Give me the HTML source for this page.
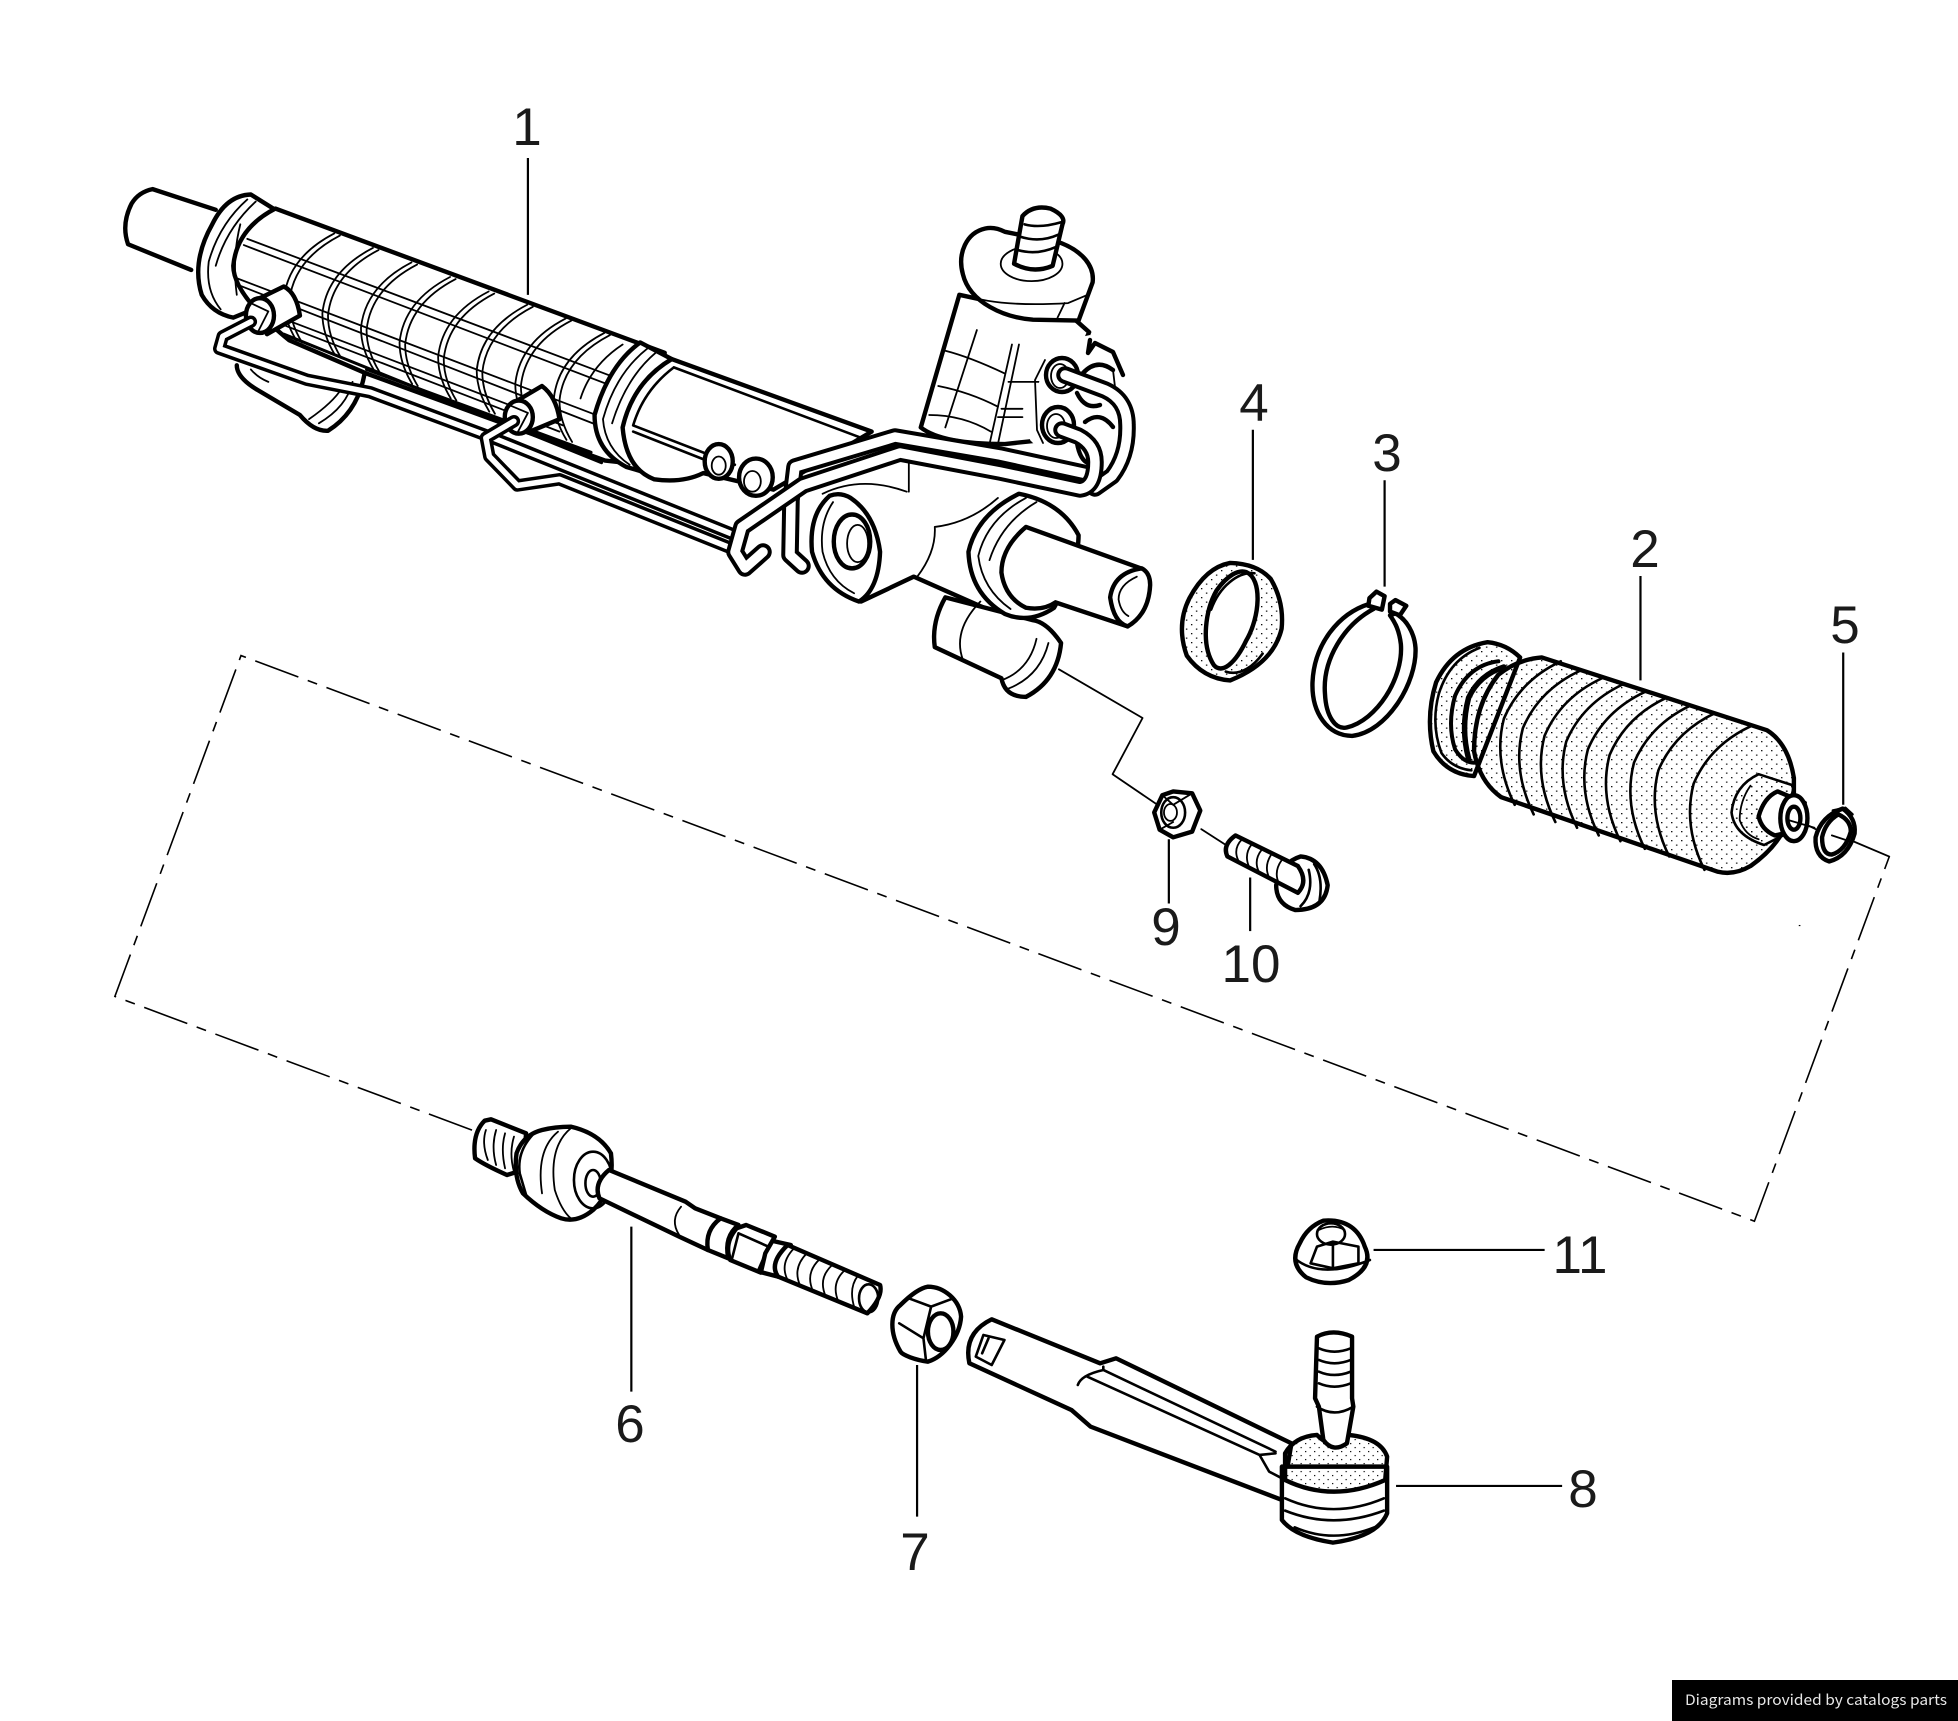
<!DOCTYPE html>
<html><head><meta charset="utf-8">
<style>
html,body{margin:0;padding:0;background:#fff}
svg{display:block;position:absolute;left:0;top:0}
path,ellipse,line,polyline{vector-effect:non-scaling-stroke}
.t{fill:#fff;stroke:#000;stroke-width:4.4;stroke-linejoin:round;stroke-linecap:round}
.o{fill:none;stroke:#000;stroke-width:4.4;stroke-linejoin:round;stroke-linecap:round}
.m{fill:none;stroke:#000;stroke-width:2.6;stroke-linecap:round;stroke-linejoin:round}
.n{fill:none;stroke:#000;stroke-width:1.8;stroke-linecap:round;stroke-linejoin:round}
.w{fill:#fff;stroke:none}
.l{fill:none;stroke:#000;stroke-width:2.2}
.d{fill:none;stroke:#000;stroke-width:1.6;stroke-dasharray:46 10 10 10}
.lbl{font-family:"Liberation Sans",sans-serif;font-size:53px;fill:#1a1a1a;text-anchor:middle}
.pb{fill:none;stroke:#000;stroke-width:12.5;stroke-linejoin:round;stroke-linecap:round}
.pw{fill:none;stroke:#fff;stroke-width:5.5;stroke-linejoin:round;stroke-linecap:round}
.qb{fill:none;stroke:#000;stroke-width:17.5;stroke-linejoin:round;stroke-linecap:round}
.qw{fill:none;stroke:#fff;stroke-width:9.5;stroke-linejoin:round;stroke-linecap:round}
#foot{position:absolute;left:1672px;top:1680px;width:286px;height:41px;background:#000}
</style></head><body>
<svg width="1958" height="1721" viewBox="0 0 1958 1721" xmlns="http://www.w3.org/2000/svg">
<defs>
<pattern id="s2" width="10" height="9" patternUnits="userSpaceOnUse" patternTransform="scale(1.845,2.613)"><rect x="1" y="1" width="1.3" height="1.3" fill="#000"/><rect x="6" y="5.5" width="1.3" height="1.3" fill="#000"/></pattern>
<pattern id="s3" width="9" height="8" patternUnits="userSpaceOnUse" patternTransform="scale(1.568,3)"><rect x="1" y="1" width="1.2" height="1.2" fill="#000"/><rect x="5.5" y="5" width="1.2" height="1.2" fill="#000"/></pattern>
<path id="p3" d="M215,535 L175,570 L170,600 L295,675 L385,705 L560,815 L905,1050"/>
<path id="p4" d="M590,775 L550,815 L555,860 L595,930 L655,915 L905,1085"/>
<path id="qR" d="M1092,475 L1000,455 L895,437 L795,467 L791,500 L790,555 L802,566"/>
<path id="qU" d="M1065,375 L1105,390 Q1127,400 1127,425 Q1128,455 1112,476 L1095,488"/>
<path id="qL" d="M1062,430 L1078,436 Q1095,445 1095,462 Q1095,487 1080,489 L1000,472 L900,453 L803,485 L742,527 L735,552 L745,568 L763,552"/>
<path id="arc" class="n" d="M334,322 Q268,380 262,480 Q262,530 280,580"/>
<path id="fold" class="m" d="M0,0 Q-75,50 -105,150 Q-125,260 -85,375"/>
</defs>

<!-- dashed construction lines -->
<g transform="scale(1.2487)">
<path class="d" d="M378,905 L92,798 L193,525 L1405,978 L1513,686"/>
<path class="n" d="M1513,686 L1480,672"/>
<path class="n" d="M848,536 L915,575 L891,620 L935,650"/>
<path class="n" d="M962,664 L990,682"/>
<path class="n" d="M1442,658 L1462,668"/>
</g>

<!-- MAIN RACK -->
<g transform="translate(100,100) scale(.7015,.4145)">
<path class="t" d="M165,265 L75,215 Q55,222 45,250 Q30,300 40,348 L130,410"/>
<!-- lug under tube -->
<path class="t" d="M195,640 Q195,670 225,700 L285,760 Q305,800 325,798 Q370,750 378,650"/>
<path class="n" d="M312,780 Q352,740 360,680 M298,770 Q332,730 345,695 M215,650 Q225,670 240,680"/>
<!-- left flange -->
<path class="t" d="M215,228 Q180,230 160,300 Q130,390 145,470 Q160,515 190,525 L255,480 L250,265 Z"/>
<path class="n" d="M210,240 Q170,300 155,390 Q150,460 172,505 M222,245 Q180,310 165,400"/>
<!-- corrugated tube -->
<path class="t" d="M250,262 L805,610 L775,880 L720,870 L380,660 L270,580 Q190,470 190,400 Q195,310 250,262 Z"/>
<use href="#arc"/><use href="#arc" x="8" y="5"/>
<use href="#arc" x="55" y="35"/><use href="#arc" x="63" y="40"/>
<use href="#arc" x="110" y="70"/><use href="#arc" x="118" y="75"/>
<use href="#arc" x="165" y="105"/><use href="#arc" x="173" y="110"/>
<use href="#arc" x="220" y="140"/><use href="#arc" x="228" y="145"/>
<use href="#arc" x="275" y="172"/><use href="#arc" x="283" y="177"/>
<use href="#arc" x="330" y="205"/><use href="#arc" x="338" y="210"/>
<use href="#arc" x="385" y="240"/><use href="#arc" x="393" y="245"/>
<path class="n" d="M210,335 L735,670 M205,350 L730,690 M195,430 L715,765 M195,445 L710,785 M265,530 L660,785 M265,545 L655,800"/>
<path class="n" d="M200,300 Q188,380 195,470"/>
<!-- tube right flange -->
<path class="t" d="M770,585 Q725,640 705,760 Q705,845 750,885 L790,905 L815,625 Z"/>
<path class="n" d="M780,600 Q735,660 717,770 Q720,840 755,880 M792,610 Q750,670 730,780"/>
<path class="n" d="M745,590 Q700,640 685,720"/>
<!-- housing section -->
<path class="t" d="M815,625 L1100,800 L960,940 L860,900 Q830,925 790,915 Q750,890 745,790 Q760,680 815,625 Z"/>
<path class="m" d="M818,645 L1085,815 M818,645 Q775,700 760,785 L905,880"/>
<path class="m" d="M760,800 L880,880"/>
<ellipse class="t" cx="882" cy="872" rx="20" ry="42"/>
<ellipse class="n" cx="882" cy="882" rx="10" ry="22"/>
<ellipse class="t" cx="935" cy="910" rx="24" ry="45"/>
<ellipse class="n" cx="930" cy="920" rx="12" ry="25"/>
<!-- valve housing: corrugated lower part -->
<path class="t" d="M1225,470 L1170,790 Q1200,830 1290,830 L1345,820 L1410,560 L1390,530 Z"/>
<path class="n" d="M1250,555 L1205,790 M1215,535 L1195,650 M1300,590 L1268,830 M1310,590 L1280,830 M1362,590 L1335,815"/>
<path class="n" d="M1205,605 Q1240,620 1290,660 M1195,690 Q1240,705 1280,740 M1182,760 Q1230,760 1270,800 M1295,680 L1345,680 M1285,745 L1315,745 M1280,765 L1315,765"/>
<!-- cap -->
<path class="t" d="M1262,310 C1235,320 1222,370 1230,420 C1240,490 1290,525 1330,530 L1395,532 L1415,440 C1418,400 1400,365 1370,345 L1290,318 Q1275,305 1262,310 Z"/>
<path class="n" d="M1232,470 Q1280,500 1380,490 L1408,470 M1375,490 L1365,525"/>
<ellipse class="n" cx="1328" cy="395" rx="44" ry="42"/>
<path class="t" d="M1303,395 L1315,280 Q1330,252 1355,262 Q1378,280 1372,300 L1358,400 Q1330,420 1303,395 Z"/>
<path class="m" d="M1318,300 Q1340,310 1370,295 M1312,330 Q1340,345 1366,325 M1308,362 Q1335,375 1362,355"/>
<!-- thin dark rod under tube -->
<path class="o" d="M262,565 L715,875" style="stroke-width:3"/>
<path class="o" d="M380,650 L700,850" style="stroke-width:3"/>
<!-- fittings -->
<path class="t" d="M228,478 L262,450 Q280,465 285,520 L238,565 Z"/>
<ellipse class="t" cx="228" cy="520" rx="20" ry="42"/>
<path class="n" d="M215,490 L240,510 L225,560"/>
<path class="t" d="M595,725 L630,690 Q650,715 655,770 L610,802 Z"/>
<ellipse class="t" cx="597" cy="765" rx="20" ry="40"/>
<path class="n" d="M582,735 L610,755 L595,803"/>
<!-- pipes -->
<use href="#p3" class="pb"/><use href="#p3" class="pw"/>
<use href="#p4" class="pb"/><use href="#p4" class="pw"/>
<!-- central housing -->
<path class="w" d="M1030,950 Q1085,905 1150,945 L1190,1030 L1290,950 L1390,1040 L1360,1220 L1300,1255 L1160,1150 L1085,1210 Z"/>
<path class="o" d="M1085,1210 L1160,1150 L1300,1255"/>
<path class="n" d="M1153,870 L1153,945 M1190,1030 Q1192,1090 1165,1150 M1190,1030 Q1240,1020 1280,960 M1030,950 Q1085,905 1150,945"/>
<path class="t" d="M1040,955 Q1010,1000 1015,1090 Q1030,1180 1082,1210 Q1110,1180 1112,1090 Q1105,1000 1070,960 Q1055,945 1040,955 Z"/>
<path class="n" d="M1045,970 Q1025,1020 1030,1090 Q1040,1160 1075,1190"/>
<ellipse class="t" cx="1072" cy="1065" rx="26" ry="65"/>
<ellipse class="n" cx="1080" cy="1070" rx="15" ry="45"/>
<!-- lower lug -->
<path class="t" d="M1205,1200 Q1185,1260 1190,1320 L1285,1395 Q1290,1440 1320,1440 Q1365,1400 1370,1310 Q1350,1260 1330,1255 Z"/>
<path class="n" d="M1255,1210 Q1215,1280 1230,1350 M1295,1420 Q1340,1390 1352,1310 M1285,1400 Q1325,1375 1335,1300"/>
<!-- right ring and rod -->
<path class="t" d="M1310,950 Q1250,1000 1238,1090 Q1240,1190 1290,1240 Q1325,1265 1360,1225 Q1395,1120 1395,1050 Q1370,970 1310,950 Z"/>
<path class="n" d="M1320,960 Q1265,1010 1252,1100 Q1258,1180 1298,1228 M1335,970 Q1285,1020 1268,1110"/>
<path class="w" d="M1320,1030 L1487,1132 L1465,1270 L1362,1212 Q1300,1150 1320,1030 Z"/>
<path class="o" d="M1320,1030 L1487,1132 M1362,1212 L1465,1270 M1320,1030 Q1285,1080 1285,1140 Q1290,1200 1320,1225 Q1345,1232 1362,1212"/>
<path class="t" d="M1485,1130 Q1445,1140 1440,1200 Q1445,1260 1465,1270 Q1495,1240 1497,1170 Q1497,1140 1485,1130 Z"/>
<path class="n" d="M1478,1150 Q1452,1170 1452,1205 Q1455,1235 1466,1245"/>
<line class="l" x1="610" y1="140" x2="610" y2="470"/>
</g>

<!-- PORT BLOCK AND UPPER PIPES (pixel space) -->
<g>
<path class="w" d="M1045,345 L1090,335 L1125,375 L1130,480 L1070,480 L1030,440 Z"/>
<path class="n" d="M1045,360 L1035,380 L1037,430 L1043,443"/>
<path class="o" d="M1090,340 L1088,353 L1095,343 L1113,352 L1123,375"/>
<path class="o" d="M1083,373 Q1097,358 1113,370" />
<path class="n" d="M1113,370 L1115,387"/>
<path class="o" d="M1077,393 Q1085,410 1100,405 M1085,422 Q1100,410 1113,427 M1077,443 Q1080,460 1088,463"/>
<ellipse class="t" cx="1062" cy="375" rx="16" ry="17"/>
<ellipse class="n" cx="1060" cy="376" rx="9" ry="12"/>
<ellipse class="t" cx="1058" cy="425" rx="16" ry="18"/>
<ellipse class="n" cx="1056" cy="426" rx="9" ry="12"/>
<use href="#qU" class="qb"/><use href="#qU" class="qw"/>
<use href="#qR" class="qb"/><use href="#qR" class="qw"/>
<use href="#qL" class="qb"/><use href="#qL" class="qw"/>
</g>

<!-- BOOT ETC -->
<g transform="translate(1100,380) scale(.5421,.3827)">
<!-- 4 -->
<path class="t" style="fill:url(#s2)" d="M240,478 Q290,480 315,520 Q340,580 335,650 Q320,740 240,785 Q190,780 160,720 Q140,640 165,570 Q195,490 240,478 Z"/>
<path class="t" d="M270,502 C300,520 295,620 270,680 C250,740 225,770 210,745 C185,690 195,600 215,550 C235,510 255,495 270,502 Z"/>
<path class="m" d="M285,505 C255,500 220,540 205,600 M232,762 C260,775 285,745 300,715"/>
<line class="l" x1="282" y1="130" x2="282" y2="470"/>
<!-- 3 -->
<path class="t" d="M497,585 C440,610 395,690 392,790 C390,870 420,930 465,930 C530,920 585,790 582,700 C580,660 565,625 545,610 L535,615 C545,635 552,655 555,690 C560,780 510,890 455,908 C435,915 417,880 415,820 C410,730 450,640 505,598 Z"/>
<path class="t" d="M497,570 L510,553 L525,565 L520,600 L495,590 Z"/>
<path class="t" d="M535,585 L545,575 L565,590 L553,615 L535,605 Z"/>
<line class="l" x1="525" y1="262" x2="525" y2="540"/>
<!-- boot flange -->
<path class="t" style="fill:url(#s2)" d="M715,685 Q650,700 620,790 Q600,880 615,970 Q640,1030 690,1035 L775,725 Q750,690 715,685 Z"/>
<path class="m" d="M700,700 Q645,730 625,820 Q610,900 630,975 Q650,1015 685,1020"/>
<path class="o" d="M735,735 Q680,745 655,825 Q640,900 655,965 Q670,1000 690,1000" style="stroke-width:4"/>
<path class="o" d="M745,750 Q700,770 680,830 Q665,910 680,990" style="stroke-width:5.5"/>
<!-- 2 boot -->
<path class="t" style="fill:url(#s2)" d="M815,725 L1230,915 Q1270,950 1280,1040 L1280,1090 L1260,1180 Q1240,1230 1200,1270 Q1170,1295 1140,1285 L740,1090 Q700,1050 690,970 Q690,850 735,770 Q770,730 815,725 Z"/>
<use href="#fold" x="850" y="735"/><use href="#fold" x="885" y="760"/><use href="#fold" x="925" y="780"/>
<use href="#fold" x="965" y="795"/><use href="#fold" x="1005" y="815"/><use href="#fold" x="1045" y="830"/>
<use href="#fold" x="1090" y="850"/><use href="#fold" x="1135" y="870"/><use href="#fold" x="1200" y="905"/>
<!-- boot end -->
<path class="m" style="fill:url(#s2)" d="M1215,1030 Q1170,1060 1165,1130 Q1170,1190 1225,1215 L1260,1190 L1280,1060 Z"/>
<path class="n" d="M1200,1060 Q1180,1100 1180,1150 Q1190,1190 1215,1200"/>
<path class="t" d="M1250,1075 Q1225,1090 1215,1140 Q1220,1175 1245,1190 L1280,1180 L1300,1105 Z"/>
<ellipse class="t" cx="1280" cy="1145" rx="25" ry="60"/>
<ellipse class="t" cx="1280" cy="1145" rx="12" ry="30"/>
<path class="n" d="M1270,1150 L1318,1170"/>
<!-- 5 -->
<path class="t" d="M1370,1120 Q1330,1140 1320,1195 Q1318,1245 1345,1258 Q1380,1245 1392,1185 Q1395,1145 1370,1120 Z"/>
<path class="t" d="M1362,1135 Q1338,1155 1332,1195 Q1332,1240 1350,1240 Q1375,1230 1385,1180 Q1385,1150 1362,1135 Z"/>
<path class="m" d="M1352,1125 L1375,1118 L1388,1135"/>
<path class="n" d="M1350,1190 L1382,1205"/>
<line class="l" x1="1371" y1="712" x2="1371" y2="1110"/>
<line class="l" x1="997" y1="512" x2="997" y2="785"/>
<!-- 9 nut -->
<path class="t" d="M135,1075 L170,1080 L185,1125 L170,1180 L135,1195 L110,1175 L100,1130 L115,1085 Z"/>
<ellipse class="m" cx="135" cy="1130" rx="22" ry="40"/>
<ellipse class="n" cx="130" cy="1130" rx="12" ry="22"/>
<path class="n" d="M115,1085 L135,1110 L170,1080 M110,1175 L135,1155"/>
<line class="l" x1="127" y1="1200" x2="127" y2="1368"/>
<!-- 10 bolt -->
<path class="t" d="M370,1245 Q410,1250 420,1320 Q415,1385 360,1385 Q325,1370 325,1320 Q335,1260 370,1245 Z"/>
<path class="m" d="M395,1265 Q412,1300 405,1360 M385,1280 Q395,1340 370,1375"/>
<path class="t" d="M250,1190 L365,1270 Q385,1310 365,1340 L235,1245 Q225,1215 250,1190 Z"/>
<path class="n" d="M262,1200 Q245,1225 255,1255 M280,1213 Q265,1240 275,1272 M298,1228 Q283,1255 293,1285 M316,1240 Q302,1270 312,1300 M335,1255 Q320,1285 330,1315"/>
<line class="l" x1="277" y1="1300" x2="277" y2="1440"/>
<rect x="1289" y="1424" width="3" height="3" fill="#000"/>
</g>

<!-- TIE ROD -->
<g transform="translate(440,1090) scale(.6378,.3333)">
<path class="t" d="M80,88 L135,130 L130,240 L105,255 Q70,225 55,205 Q50,130 70,92 Z"/>
<path class="n" d="M72,120 Q65,160 75,210 M88,120 Q80,170 88,225 M102,130 Q95,175 102,235 M116,140 Q108,190 116,245"/>
<path class="t" d="M160,120 Q130,135 120,190 Q115,260 130,310 Q160,365 190,385 Q215,400 240,360 Q275,300 268,190 Q250,130 205,110 Q180,110 160,120 Z"/>
<path class="n" d="M205,115 Q170,170 180,300 Q190,360 205,385 M185,125 Q150,180 160,310"/>
<path class="m" d="M150,125 Q120,180 125,250 L135,315"/>
<ellipse class="m" cx="240" cy="270" rx="30" ry="85"/>
<ellipse class="m" cx="240" cy="280" rx="12" ry="40"/>
<!-- rod -->
<path class="t" d="M265,240 L385,335 L400,355 L440,385 L420,480 L375,440 L250,325 Q240,280 265,240 Z"/>
<path class="n" d="M378,350 Q360,390 375,435"/>
<!-- neck and thread end -->
<path class="t" d="M515,450 L550,465 L530,560 L500,545 Z"/>
<path class="t" d="M545,465 L690,585 Q695,620 670,670 L530,560 Q515,520 545,465 Z"/>
<path class="n" d="M555,475 Q532,520 545,570 M575,490 Q552,535 565,588 M595,508 Q572,550 585,604 M615,525 Q592,565 605,620 M635,540 Q612,580 625,636 M655,558 Q640,595 650,655"/>
<ellipse class="m" cx="672" cy="625" rx="15" ry="42"/>
<!-- collar and hex -->
<path class="t" d="M440,385 Q415,420 420,480 L452,505 Q445,440 468,405 Z"/>
<path class="t" d="M465,415 L480,405 L525,440 L510,490 L503,548 L455,510 Q445,460 465,415 Z"/>
<path class="m" d="M468,430 L515,470 L498,545 M468,430 L458,505"/>
<!-- 7 nut -->
<path class="t" d="M765,590 C790,590 815,630 817,680 C815,740 790,800 765,815 C745,810 725,795 722,785 C705,730 705,670 722,645 C735,620 750,595 765,590 Z"/>
<path class="m" d="M735,625 L770,650 L805,625 M770,650 L758,745 L720,700 M758,745 L762,812"/>
<ellipse class="t" cx="785" cy="725" rx="20" ry="55"/>
<line class="l" x1="748" y1="825" x2="748" y2="1280"/>
<line class="l" x1="300" y1="410" x2="300" y2="905"/>
<!-- 8 end -->
<path class="t" d="M865,688 L1035,820 L1060,805 L1335,1060 L1320,1230 L1020,1010 L990,960 L830,820 Q820,730 865,688 Z"/>
<path class="m" d="M1000,885 Q1005,855 1040,840 L1040,830 M1040,840 L1310,1085 M1015,860 L1285,1095 L1310,1090 M1285,1095 L1300,1145 L1325,1170"/>
<path class="m" d="M852,735 L885,750 L865,825 L840,800 Z M860,745 L850,790"/>
<!-- ball -->
<path class="t" d="M1320,1130 L1320,1290 Q1340,1340 1400,1358 Q1470,1340 1485,1270 L1485,1130 Z"/>
<path class="t" style="fill:url(#s3)" d="M1325,1170 L1325,1090 Q1340,1040 1375,1035 Q1400,1085 1425,1035 Q1475,1045 1485,1100 L1482,1170 Q1400,1240 1325,1170 Z"/>
<path class="m" d="M1325,1225 Q1400,1290 1480,1225 M1325,1262 Q1400,1320 1480,1262 M1340,1312 Q1400,1362 1465,1312"/>
<!-- stud -->
<path class="t" d="M1385,1050 L1378,950 L1372,925 L1375,740 Q1400,715 1430,740 L1430,925 L1432,950 L1422,1060 Q1400,1090 1385,1050 Z"/>
<path class="m" d="M1378,775 Q1402,795 1428,775 M1378,810 Q1402,830 1428,810 M1378,845 Q1402,865 1428,845 M1378,880 Q1402,900 1428,880 M1375,950 Q1402,985 1432,950"/>
<!-- 11 nut -->
<path class="t" d="M1385,392 Q1435,385 1450,470 Q1465,530 1425,570 Q1390,592 1358,562 Q1330,520 1348,460 Q1360,410 1385,392 Z"/>
<path class="m" d="M1340,505 Q1380,570 1458,510"/>
<path class="m" d="M1375,470 L1400,455 L1440,470 L1440,520 L1400,535 L1365,520 Z M1400,535 L1400,455"/>
<ellipse class="m" cx="1397" cy="432" rx="22" ry="32"/>
<path class="n" d="M1378,420 Q1400,400 1418,420"/>
</g>

<!-- horizontal leaders -->
<g transform="scale(1.2487)">
<line class="l" x1="1100" y1="1001" x2="1237" y2="1001"/>
<line class="l" x1="1118" y1="1190" x2="1251" y2="1190"/>
</g>
<text class="lbl" x="527" y="145">1</text>
<text class="lbl" x="1645" y="567">2</text>
<text class="lbl" x="1387" y="471">3</text>
<text class="lbl" x="1254" y="421">4</text>
<text class="lbl" x="1845" y="643">5</text>
<text class="lbl" x="630" y="1442">6</text>
<text class="lbl" x="915" y="1570">7</text>
<text class="lbl" x="1583" y="1507">8</text>
<text class="lbl" x="1166" y="945">9</text>
<text class="lbl" x="1251" y="982">10</text>
<text class="lbl" x="1580" y="1273">11</text>
</svg>
<div id="foot"></div>
<svg width="1958" height="1721" viewBox="0 0 1958 1721" xmlns="http://www.w3.org/2000/svg" style="pointer-events:none">
<text x="1685" y="1705" font-family="'Noto Sans CJK JP','DejaVu Sans',sans-serif" font-size="14.5" fill="#e8e8e8" textLength="262" lengthAdjust="spacingAndGlyphs">Diagrams provided by catalogs parts</text>
</svg>
</body></html>
